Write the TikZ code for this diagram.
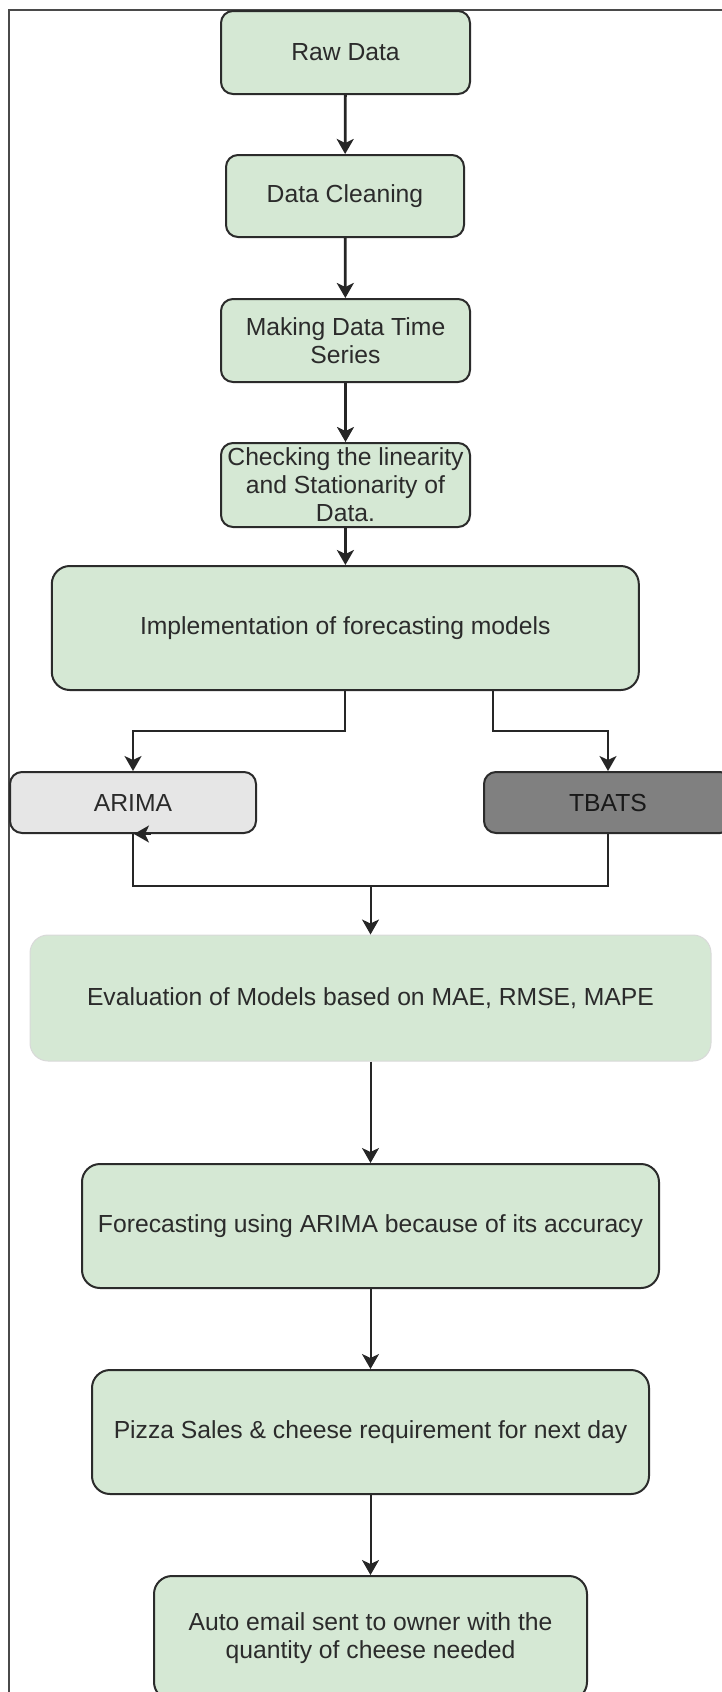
\documentclass[tikz,border=0pt]{standalone}
\usepackage{fontspec}
\setmainfont{Liberation Sans}
\usepackage{tikz}
\usetikzlibrary{arrows.meta, positioning, calc}
\definecolor{flowgreen}{HTML}{D5E8D4}
\definecolor{flowlight}{HTML}{E6E6E6}
\definecolor{flowgrey}{HTML}{808080}
\definecolor{flowdark}{HTML}{2B2B2B}
\definecolor{flowframe}{HTML}{4A4A4A}

\tikzset{
  stage/.style={draw=flowdark, line width=1pt, fill=flowgreen, rounded corners=6pt,
    align=center, text=flowdark, inner sep=0pt,
    font=\fontsize{12.35}{14}\selectfont},
  bigstage/.style={stage, rounded corners=9pt},
  link/.style={draw=black!85, line width=1pt},
  tiplink/.style={link, -{Stealth[length=7.5pt,width=8.5pt,inset=2pt]}},
  boldlink/.style={tiplink, line width=1.4pt}
}

\begin{document}
\begin{tikzpicture}[x=0.5pt, y=-0.5pt]
  \useasboundingbox (0,0) rectangle (722,1692);
  \clip (0,0) rectangle (722,1692);

  % Page frame
  \draw[flowframe, line width=1pt] (9,1700) -- (9,10) -- (730,10);

  % Preparation steps
  \node[stage, minimum width=124.5pt, minimum height=41.5pt] (raw) at (345.5,52.5) {Raw Data};
  \node[stage, minimum width=119pt, minimum height=41pt] (clean) at (345,196) {Data Cleaning};
  \node[stage, minimum width=124.5pt, minimum height=41.5pt] (series) at (345.5,340.5) {Making Data Time\\Series};
  \node[stage, minimum width=124.5pt, minimum height=42pt] (check) at (345.5,485) {Checking the linearity\\and Stationarity of\\Data.};
  \node[bigstage, minimum width=293.5pt, minimum height=62pt] (impl) at (345.3,628) {Implementation of forecasting models};

  % Models
  \node[stage, fill=flowlight, minimum width=123pt, minimum height=30.5pt] (arima) at (133,802.5) {ARIMA};
  \node[stage, fill=flowgrey, text=black!90, minimum width=124pt, minimum height=30.5pt] (tbats) at (608,802.5) {TBATS};

  % Evaluation and output
  \node[bigstage, draw=black!15, line width=0.5pt, minimum width=340.5pt, minimum height=63pt] (eval) at (370.5,998) {Evaluation of Models based on MAE, RMSE, MAPE};
  \node[bigstage, minimum width=288.5pt, minimum height=62pt] (fore) at (370.5,1226) {Forecasting using ARIMA because of its accuracy};
  \node[bigstage, minimum width=278.5pt, minimum height=62pt] (pizza) at (370.5,1432) {Pizza Sales \& cheese requirement for next day};
  \node[bigstage, minimum width=216.5pt, minimum height=62pt] (email) at (370.5,1638) {Auto email sent to owner with the\\quantity of cheese needed};

  % Main chain
  \draw[boldlink] (raw) -- (clean);
  \draw[boldlink] (clean) -- (series);
  \draw[boldlink] (series) -- (check);
  \draw[boldlink] (check) -- (impl);

  % Split into the two models
  \coordinate (split) at (0,731);
  \coordinate (rightout) at ($(impl.south)+(147.3,0)$);
  \draw[tiplink] (impl.south) -- (impl.south |- split) -| (arima.north);
  \draw[tiplink] (rightout) -- (rightout |- split) -| (tbats.north);

  % Merge back
  \coordinate (join) at (370.5,886);
  \draw[link] (tbats.south) |- (join) -| (arima.south);
  \draw[tiplink] ([xshift=9pt]arima.south) -- ([xshift=0.5pt]arima.south);
  \draw[tiplink] (join) -- (eval.north);

  % Output chain
  \draw[tiplink] (eval) -- (fore);
  \draw[tiplink] (fore) -- (pizza);
  \draw[tiplink] (pizza) -- (email);
\end{tikzpicture}
\end{document}
